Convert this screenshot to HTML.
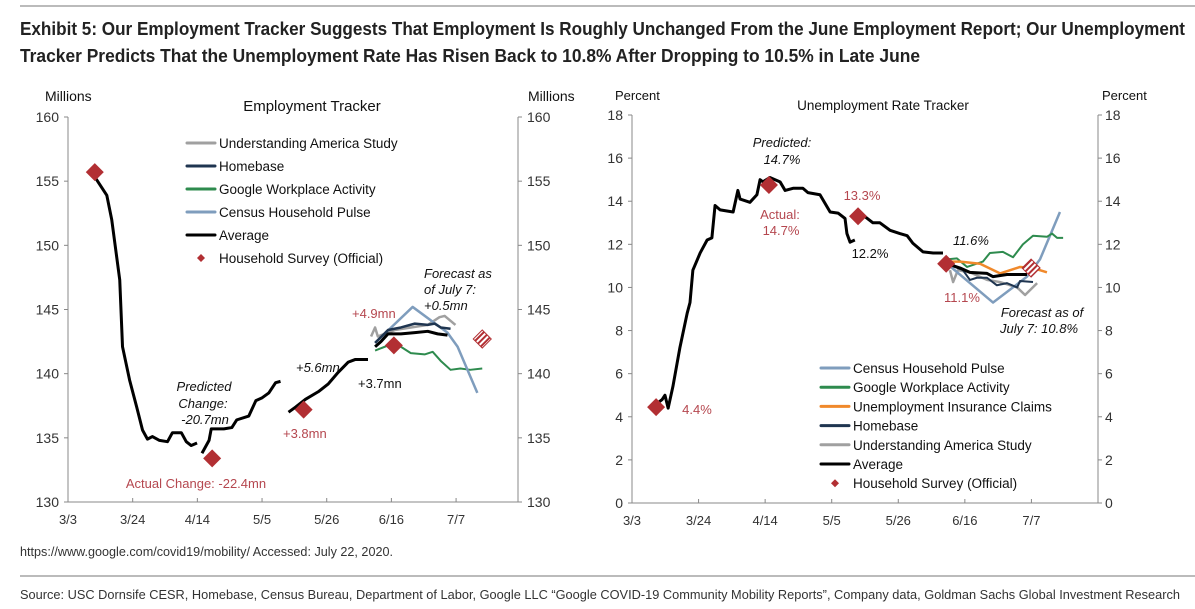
<!DOCTYPE html>
<html><head><meta charset="utf-8"><style>
body{margin:0;background:#fff;}
svg{display:block;font-family:"Liberation Sans",Arial,sans-serif;}
</style></head><body>
<svg id="s" width="1195" height="609" viewBox="0 0 1195 609" xmlns="http://www.w3.org/2000/svg">
<defs>
<pattern id="hatch" width="4" height="4" patternUnits="userSpaceOnUse" patternTransform="rotate(45)">
<rect width="4" height="4" fill="#fff"/><rect width="2" height="4" fill="#b22f33"/></pattern>
</defs>
<line x1="20" y1="6" x2="1195" y2="6" stroke="#777" stroke-width="1"/>
<text x="20" y="35" font-size="18" font-weight="bold" fill="#222" textLength="1165" lengthAdjust="spacingAndGlyphs">Exhibit 5: Our Employment Tracker Suggests That Employment Is Roughly Unchanged From the June Employment Report; Our Unemployment</text>
<text x="20" y="62" font-size="18" font-weight="bold" fill="#222" textLength="900" lengthAdjust="spacingAndGlyphs">Tracker Predicts That the Unemployment Rate Has Risen Back to 10.8% After Dropping to 10.5% in Late June</text>
<text x="20" y="556" font-size="13" fill="#333" textLength="373" lengthAdjust="spacingAndGlyphs">https://www.google.com/covid19/mobility/ Accessed: July 22, 2020.</text>
<line x1="20" y1="576" x2="1195" y2="576" stroke="#777" stroke-width="1"/>
<text x="20" y="599" font-size="13" fill="#333" textLength="1160" lengthAdjust="spacingAndGlyphs">Source: USC Dornsife CESR, Homebase, Census Bureau, Department of Labor, Google LLC “Google COVID-19 Community Mobility Reports”, Company data, Goldman Sachs Global Investment Research</text>
<g id="L"></g>
<g id="R"></g>
</svg>
<script>
// ---------- Employment tracker data (day = days since 3/3, value = millions) ----------
const tickLabels = ["3/3","3/24","4/14","5/5","5/26","6/16","7/7"];
const empYTicks = [130,135,140,145,150,155,160];
const empAvg1Days = [7.7,12.6,14.2,16.8,17.7,20,22.3,24.2,25.8,27.4,29.7,32.3,33.9,36.8,38.4,40,41.9];
const empAvg1Vals = [155.7,153.9,152.0,147.3,142.1,139.5,137.4,135.6,134.9,135.1,134.8,134.7,135.4,135.4,134.7,134.4,134.6];
const empAvg2Days = [43.5,45.8,46.5,50.6,53.2,54.8,58.7,61,62.9,65.2,67.4,69];
const empAvg2Vals = [133.8,134.8,135.7,135.7,135.8,136.4,136.7,137.9,138.1,138.5,139.3,139.4];
const empAvg3Days = [71.6,73.9,77.1,81.3,84.5,87.7,91,93.2,97.4];
const empAvg3Vals = [137,137.4,138,138.6,139.2,140.1,140.9,141.1,141.1];
const empAvg4Days = [99.7,101.6,103.9,108.1,112.6,116.8,120,123.2];
const empAvg4Vals = [142.1,142.5,143.1,143.1,143.2,143.3,143.1,143.0];
const empUasDays = [98.4,99.7,100.6,106.1,111.3,116.8,120.6,122.3,125.8];
const empUasVals = [142.9,143.6,142.9,143.4,143.6,143.8,144.4,144.5,143.8];
const empHbDays = [99.7,103.9,108.1,112.6,116.8,119,121,124.2];
const empHbVals = [142.4,143.4,143.6,143.9,143.8,143.9,143.6,143.5];
const empGoogDays = [99.7,106.1,111.3,115.8,118.4,121,124.2,127.4,130.6,134.5];
const empGoogVals = [141.8,142.4,141.6,141.5,141.7,141.0,140.3,140.4,140.3,140.4];
const empCensusDays = [99.7,111.9,123.2,126.5,132.9];
const empCensusVals = [142.4,145.2,143.2,142.1,138.5];
const empSurveyDays = [8.7,46.8,76.5,105.8];
const empSurveyVals = [155.7,133.4,137.2,142.2];
const empForecastDay = [134.5];
const empForecastVal = [142.7];

// ---------- Unemployment tracker data (percent) ----------
const urYTicks = [0,2,4,6,8,10,12,14,16,18];
const urAvg1Days = [7.3,9.5,10.4,11.4,12.9,15.1,17.4,18.3,19.2,21.5,23.7,25.2,26.2,27.8,31.9,33.4,34.1,37.2,39.4,40.4,41.3,43.5,46.7,48.3,50.8,53.9,55.5,59.3,62.5,65,67.2,67.8,68.8,70.3];
const urAvg1Vals = [4.55,4.8,5.0,4.4,5.4,7.2,8.8,9.3,10.8,11.6,12.2,12.3,13.8,13.6,13.5,14.5,14.1,13.95,14.3,15.0,14.9,15.1,14.9,14.5,14.6,14.6,14.4,14.3,13.5,13.45,13.2,12.5,12.1,12.2];
const urAvg2Days = [71.3,72.9,76,78.2,81.4,84.5,86.8,88.6,91.8,95,98.1];
const urAvg2Vals = [13.3,13.35,13.0,13.0,12.65,12.5,12.4,12.05,11.65,11.6,11.6];
const urAvg3Days = [99.4,103.5,106.6,112,113.9,118.3,120.2,124.6];
const urAvg3Vals = [11.1,10.9,10.7,10.65,10.5,10.6,10.6,10.6];
const urCensusDays = [99.4,113.9,124.6,128.7,135];
const urCensusVals = [11.1,9.3,10.5,11.3,13.5];
const urGoogDays = [99.4,102.5,105.7,110.7,112.9,117,120.2,123.3,126.5,130.9,132.5,134.1,136];
const urGoogVals = [11.3,11.35,10.95,11.2,11.6,11.65,11.4,12.0,12.4,12.35,12.5,12.3,12.3];
const urUicDays = [99.4,103.5,109.8,116.1,122.4,126.5,130.9];
const urUicVals = [11.2,11.2,11.1,10.65,10.95,10.9,10.7];
const urHbDays = [99.4,104.4,106.6,108.8,112,115.1,118.3,121.5,122.4,126.5];
const urHbVals = [11.1,10.8,10.35,10.45,10.45,10.1,10.2,10.0,10.3,10.25];
const urUasDays = [100.3,101.3,102.8,106.6,112,116.1,121.5,124,127.8];
const urUasVals = [10.8,10.25,10.8,10.7,10.35,10.25,10.0,9.65,10.2];
const urSurveyDays = [7.6,43.2,71.3,99.1];
const urSurveyVals = [4.45,14.75,13.3,11.1];
const urForecastDay = [125.9];
const urForecastVal = [10.9];

const NS="http://www.w3.org/2000/svg";
function mk(parent,tag,attrs,text){const e=document.createElementNS(NS,tag);for(const k in attrs)e.setAttribute(k,attrs[k]);if(text!==undefined)e.textContent=text;parent.appendChild(e);return e;}

// scales
const exL=d=>68+d*3.08, eyL=v=>117+(160-v)*(385/30);
const exR=d=>632+d*3.17, eyR=v=>503-v*(388/18);

function axes(g,x0,x1,yTop,yBot,yTicks,ys,xs,tickDays,fmtLeftX,fmtRightX){
  const a=mk(g,'line',{x1:x0,y1:yTop,x2:x0,y2:yBot,stroke:'#888'});
  
  const b=mk(g,'line',{x1:x1,y1:yTop,x2:x1,y2:yBot,stroke:'#888'});
  
  const c=mk(g,'line',{x1:x0,y1:yBot,x2:x1,y2:yBot,stroke:'#888'});
  
  yTicks.forEach(v=>{
    const y=ys(v);
    mk(g,'line',{x1:x0-4,y1:y,x2:x0,y2:y,stroke:'#888'});
    mk(g,'line',{x1:x1,y1:y,x2:x1+4,y2:y,stroke:'#888'});
    const t1=mk(g,'text',{x:fmtLeftX,y:y+5,'font-size':14,'text-anchor':'end',fill:'#333'},String(v));
    
    const t2=mk(g,'text',{x:fmtRightX,y:y+5,'font-size':14,fill:'#333'},String(v));
    
  });
  tickLabels.forEach((lab,i)=>{
    const x=xs(i*21);
    mk(g,'line',{x1:x,y1:yBot,x2:x,y2:yBot-4,stroke:'#888'});
    const t=mk(g,'text',{x:x,y:yBot+22,'font-size':13,'text-anchor':'middle',fill:'#333'},lab);
    
  });
  mk(g,'line',{x1:x1,y1:yBot,x2:x1,y2:yBot-4,stroke:'#888'});
}
function line(g,days,vals,xs,ys,color,w,name){
  const p=mk(g,'polyline',{points:days.map((d,i)=>xs(d)+','+ys(vals[i])).join(' '),fill:'none',stroke:color,'stroke-width':w,'stroke-linejoin':'round'});
  
  
}
function diamonds(g,days,vals,xs,ys,fill,name){
  days.forEach((d,i)=>{
    const x=xs(d),y=ys(vals[i]),r=9;
    const p=mk(g,'polygon',{points:`${x},${y-r} ${x+r},${y} ${x},${y+r} ${x-r},${y}`,fill:fill,stroke:fill==='#b22f33'?'none':'#b22f33','stroke-width':1});
    
    
  });
}
function txt(g,x,y,s,opts,name){
  const t=mk(g,'text',Object.assign({x:x,y:y,'font-size':13,fill:'#111'},opts||{}),s);
  
  
}
function legend(g,x,y0,dy,items){
  items.forEach((it,i)=>{
    const y=y0+i*dy;
    if(it.c==='dia'){
      mk(g,'polygon',{points:`${x+14},${y-4} ${x+18},${y} ${x+14},${y+4} ${x+10},${y}`,fill:'#b22f33'});
    } else {
      mk(g,'line',{x1:x,y1:y,x2:x+28,y2:y,stroke:it.c,'stroke-width':it.w||3,'stroke-linecap':'round'});
    }
    const t=mk(g,'text',{x:x+32,y:y+5,'font-size':13.5,fill:'#111'},it.t);
    
    
  });
}
const RED='#b22f33', ANN='#b5474f';

// ---- Left chart ----
const L=document.getElementById('L');
axes(L,68,518,117,502,empYTicks,eyL,exL,null,59,527);
txt(L,45,101,'Millions',{'font-size':14},'y-axis-unit');
txt(L,528,101,'Millions',{'font-size':14},'y2-axis-unit');
txt(L,312,111,'Employment Tracker',{'font-size':15,'text-anchor':'middle'},'chart-title');
legend(L,187,143,23,[{c:'#a0a0a0',t:'Understanding America Study'},{c:'#1f3550',t:'Homebase'},{c:'#2e8b4e',t:'Google Workplace Activity'},{c:'#7f9dbd',t:'Census Household Pulse'},{c:'#000',t:'Average'},{c:'dia',t:'Household Survey (Official)'}]);
line(L,empGoogDays,empGoogVals,exL,eyL,'#2e8b4e',2,'google-line');
line(L,empUasDays,empUasVals,exL,eyL,'#a0a0a0',2.5,'uas-line');
line(L,empCensusDays,empCensusVals,exL,eyL,'#7f9dbd',2.5,'census-line');
line(L,empHbDays,empHbVals,exL,eyL,'#1f3550',2.5,'homebase-line');
line(L,empAvg1Days,empAvg1Vals,exL,eyL,'#000',3,'average-line-1');
line(L,empAvg2Days,empAvg2Vals,exL,eyL,'#000',3,'average-line-2');
line(L,empAvg3Days,empAvg3Vals,exL,eyL,'#000',3,'average-line-3');
line(L,empAvg4Days,empAvg4Vals,exL,eyL,'#000',3,'average-line-4');
diamonds(L,empSurveyDays,empSurveyVals,exL,eyL,RED,'household-survey-point');
diamonds(L,empForecastDay,empForecastVal,exL,eyL,'url(#hatch)','forecast-point');
const it={'font-style':'italic','text-anchor':'middle'};
txt(L,204,391,'Predicted',it,'predicted-label');
txt(L,203,408,'Change:',it,'predicted-label');
txt(L,205,424,'-20.7mn',it,'predicted-label');
txt(L,196,488,'Actual Change: -22.4mn',{fill:ANN,'text-anchor':'middle'},'actual-change-label');
txt(L,296,372,'+5.6mn',{'font-style':'italic'},'annotation-5-6');
txt(L,283,438,'+3.8mn',{fill:ANN},'annotation-3-8');
txt(L,358,388,'+3.7mn',{},'annotation-3-7');
txt(L,352,318,'+4.9mn',{fill:ANN},'annotation-4-9');
txt(L,424,278,'Forecast as',{'font-style':'italic'},'forecast-label');
txt(L,424,294,'of July 7:',{'font-style':'italic'},'forecast-label');
txt(L,424,310,'+0.5mn',{'font-style':'italic'},'forecast-label');

// ---- Right chart ----
const R=document.getElementById('R');
axes(R,632,1098,115,503,urYTicks,eyR,exR,null,623,1105);
txt(R,615,100,'Percent',{'font-size':13},'y-axis-unit');
txt(R,1102,100,'Percent',{'font-size':13},'y2-axis-unit');
txt(R,883,110,'Unemployment Rate Tracker',{'font-size':13.5,'text-anchor':'middle'},'chart-title');
legend(R,821,368,19.2,[{c:'#7f9dbd',t:'Census Household Pulse'},{c:'#2e8b4e',t:'Google Workplace Activity'},{c:'#f0892b',t:'Unemployment Insurance Claims'},{c:'#1f3550',t:'Homebase'},{c:'#a0a0a0',t:'Understanding America Study'},{c:'#000',t:'Average'},{c:'dia',t:'Household Survey (Official)'}]);
line(R,urUasDays,urUasVals,exR,eyR,'#a0a0a0',2.5,'uas-line');
line(R,urCensusDays,urCensusVals,exR,eyR,'#7f9dbd',2.5,'census-line');
line(R,urGoogDays,urGoogVals,exR,eyR,'#2e8b4e',2,'google-line');
line(R,urUicDays,urUicVals,exR,eyR,'#f0892b',2.5,'claims-line');
line(R,urHbDays,urHbVals,exR,eyR,'#1f3550',2,'homebase-line');
line(R,urAvg1Days,urAvg1Vals,exR,eyR,'#000',3,'average-line-1');
line(R,urAvg2Days,urAvg2Vals,exR,eyR,'#000',3,'average-line-2');
line(R,urAvg3Days,urAvg3Vals,exR,eyR,'#000',3,'average-line-3');
diamonds(R,urSurveyDays,urSurveyVals,exR,eyR,RED,'household-survey-point');
diamonds(R,urForecastDay,urForecastVal,exR,eyR,'url(#hatch)','forecast-point');
txt(R,782,147,'Predicted:',it,'predicted-label');
txt(R,782,164,'14.7%',it,'predicted-label');
txt(R,780,219,'Actual:',{fill:ANN,'text-anchor':'middle'},'actual-label');
txt(R,781,235,'14.7%',{fill:ANN,'text-anchor':'middle'},'actual-label');
txt(R,862,200,'13.3%',{fill:ANN,'text-anchor':'middle'},'annotation-13-3');
txt(R,870,258,'12.2%',{'text-anchor':'middle'},'annotation-12-2');
txt(R,971,245,'11.6%',{'font-style':'italic','text-anchor':'middle'},'annotation-11-6');
txt(R,962,302,'11.1%',{fill:ANN,'text-anchor':'middle'},'annotation-11-1');
txt(R,1042,317,'Forecast as of',{'font-style':'italic','text-anchor':'middle'},'forecast-label');
txt(R,1039,333,'July 7: 10.8%',{'font-style':'italic','text-anchor':'middle'},'forecast-label');
txt(R,697,414,'4.4%',{fill:ANN,'text-anchor':'middle'},'annotation-4-4');
</script>
</body></html>
